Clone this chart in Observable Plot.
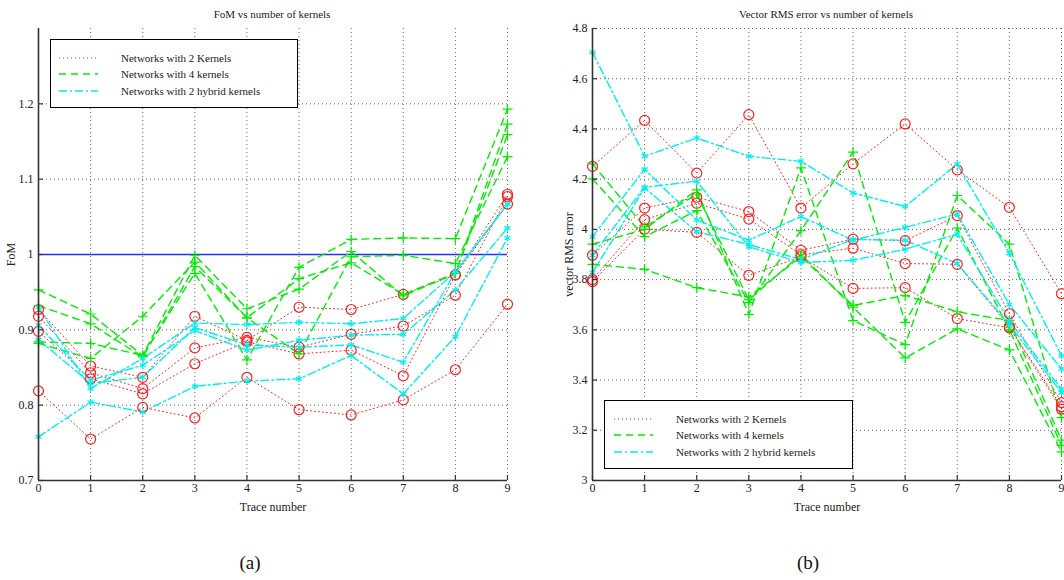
<!DOCTYPE html>
<html><head><meta charset="utf-8">
<script src="https://cdn.jsdelivr.net/npm/d3@7"></script>
<script src="https://cdn.jsdelivr.net/npm/@observablehq/plot@0.6"></script>
<style>
body{margin:0;background:#fff;}
#wrap{position:relative;width:1064px;height:580px;overflow:hidden;background:#fff;font-family:"Liberation Serif","Times New Roman","DejaVu Serif",serif;}
.panel{position:absolute;top:0;}
.ttl{position:absolute;top:8px;font-size:11px;color:#222;white-space:nowrap;transform:translateX(-50%);}
.cap{position:absolute;top:552px;font-size:19px;color:#111;transform:translateX(-50%);}
.leg{position:absolute;border:1.5px solid #000;background:#fff;box-sizing:border-box;}
.leg .row{position:absolute;left:0;height:14px;font-size:11px;color:#222;white-space:nowrap;}
.leg svg{position:absolute;top:0;}
.leg span{position:absolute;top:0;line-height:14px;}
</style></head><body><div id="wrap"></div>
<script>
// ---------- data ----------
const traces = [0, 1, 2, 3, 4, 5, 6, 7, 8, 9];
const seriesNames = ["Networks with 2 Kernels", "Networks with 4 kernels", "Networks with 2 hybrid kernels"];

// (a) FoM
const fomTwoKernels = [
  [0.927, 0.852, 0.837, 0.918, 0.886, 0.930, 0.927, 0.947, 0.973, 1.080],
  [0.918, 0.843, 0.822, 0.876, 0.890, 0.877, 0.894, 0.905, 0.946, 1.077],
  [0.898, 0.835, 0.815, 0.855, 0.884, 0.868, 0.873, 0.839, 0.973, 1.067],
  [0.819, 0.755, 0.797, 0.783, 0.837, 0.794, 0.787, 0.807, 0.847, 0.934]
];
const fomFourKernels = [
  [0.953, 0.921, 0.866, 0.999, 0.928, 0.954, 1.004, 0.945, 0.975, 1.159],
  [0.932, 0.908, 0.864, 0.984, 0.916, 0.868, 0.997, 0.999, 0.988, 1.130],
  [0.884, 0.882, 0.866, 0.975, 0.860, 0.983, 1.020, 1.022, 1.021, 1.193],
  [0.882, 0.862, 0.918, 0.990, 0.916, 0.968, 0.989, 0.947, 0.975, 1.173]
];
const fomHybrid = [
  [0.930, 0.822, 0.862, 0.909, 0.907, 0.910, 0.908, 0.915, 0.977, 1.067],
  [0.906, 0.833, 0.853, 0.899, 0.873, 0.886, 0.893, 0.894, 0.953, 1.035],
  [0.887, 0.829, 0.837, 0.903, 0.880, 0.877, 0.880, 0.857, 0.977, 1.067],
  [0.758, 0.804, 0.791, 0.825, 0.832, 0.835, 0.866, 0.815, 0.891, 1.022]
];
const fomReference = [1];
const fomTicks = [0.7, 0.8, 0.9, 1, 1.1, 1.2];
const fomDomain = [0.7, 1.3];

// (b) vector RMS error
const rmsTwoKernels = [
  [4.251, 4.434, 4.224, 4.457, 4.085, 4.261, 4.420, 4.237, 4.088, 3.744],
  [3.897, 4.085, 4.128, 4.071, 3.917, 3.961, 3.955, 4.055, 3.664, 3.310],
  [3.800, 4.039, 4.104, 4.041, 3.899, 3.925, 3.864, 3.861, 3.613, 3.294],
  [3.792, 4.001, 3.988, 3.817, 3.891, 3.765, 3.768, 3.645, 3.608, 3.284]
];
const rmsFourKernels = [
  [3.941, 4.000, 4.157, 3.661, 4.245, 3.637, 3.541, 4.135, 3.941, 3.250],
  [3.861, 3.841, 3.768, 3.731, 3.891, 3.697, 3.737, 3.672, 3.637, 3.161],
  [4.201, 3.971, 4.075, 3.708, 3.995, 4.308, 3.630, 4.005, 3.600, 3.140],
  [4.261, 4.010, 4.140, 3.720, 3.900, 3.690, 3.488, 3.604, 3.520, 3.114]
];
const rmsHybrid = [
  [4.705, 4.291, 4.364, 4.291, 4.271, 4.145, 4.091, 4.260, 3.904, 3.497],
  [3.971, 4.239, 4.037, 3.957, 4.051, 3.957, 4.008, 4.061, 3.701, 3.444],
  [3.897, 4.168, 4.192, 3.931, 3.868, 3.877, 3.921, 3.981, 3.635, 3.364],
  [3.828, 4.165, 3.991, 3.940, 3.880, 3.960, 3.957, 3.864, 3.620, 3.350]
];
const rmsTicks = [3, 3.2, 3.4, 3.6, 3.8, 4, 4.2, 4.4, 4.6, 4.8];
const rmsDomain = [3, 4.8];

// ---------- styles ----------
const FONT = "'Liberation Serif', 'Times New Roman', 'DejaVu Serif', serif";
const groupStyle = [
  {color: "#ff2020", dash: "1,3", width: 1, symbol: "circle", r: 5},
  {color: "#00ee00", dash: "7,5", width: 1.4, symbol: "plus", r: 3.3},
  {color: "#00f0f0", dash: "8,3,2,3", width: 1.4, symbol: "asterisk", r: 3.3}
];

function rows(groups) {
  const out = [];
  groups.forEach((g, gi) => g.forEach((s, si) => s.forEach((v, i) => out.push({x: traces[i], y: v, g: gi, id: gi + "-" + si}))));
  return out;
}

function panel({left, width, mL, mR, groups, ticks, domain, yLabel, refLine, yLabelOffset}) {
  const data = rows(groups);
  const H = 520, mT = 28, mB = 40;
  const plotH = H - mT - mB;
  const dy = (domain[1] - domain[0]) / plotH;
  const plotW = width - mL - mR;
  const dx = 9 / plotW;
  const marks = [
    Plot.ruleX(traces, {stroke: "#666", strokeDasharray: "1,3", strokeWidth: 1}),
    Plot.ruleY(ticks.filter(t => t !== domain[0]), {stroke: "#666", strokeDasharray: "1,3", strokeWidth: 1}),
  ];
  if (refLine) marks.push(Plot.ruleY(refLine, {stroke: "#2030ff", strokeWidth: 1.5}));
  groupStyle.forEach((st, gi) => {
    const d = data.filter(r => r.g === gi);
    marks.push(Plot.line(d, {x: "x", y: "y", z: "id", stroke: st.color, strokeWidth: st.width, strokeDasharray: st.dash}));
  });
  groupStyle.forEach((st, gi) => {
    const d = data.filter(r => r.g === gi);
    marks.push(Plot.dot(d, {x: "x", y: "y", symbol: st.symbol, r: st.r, stroke: st.color, strokeWidth: 1.2, fill: "none"}));
  });
  marks.push(Plot.ruleX([0], {stroke: "#333", strokeWidth: 1.6}));
  marks.push(Plot.ruleY([domain[0]], {stroke: "#333", strokeWidth: 1.6}));
  marks.push(Plot.ruleY(ticks, {x1: 0, x2: 5 * dx, stroke: "#333", strokeWidth: 1.2}));
  marks.push(Plot.ruleX(traces, {y1: domain[0], y2: domain[0] + 5 * dy, stroke: "#333", strokeWidth: 1.2}));
  marks.push(Plot.axisY(ticks, {tickSize: 0, tickPadding: 5, tickFormat: d => String(d), label: yLabel, labelAnchor: "center", labelArrow: "none", labelOffset: yLabelOffset, fontSize: 12}));
  marks.push(Plot.axisX(traces, {tickSize: 0, tickPadding: 3, tickFormat: d => String(d), label: "Trace number", labelAnchor: "center", labelArrow: "none", labelOffset: 30, fontSize: 12}));
  const svg = Plot.plot({
    width, height: H, marginLeft: mL, marginRight: mR, marginTop: mT, marginBottom: mB,
    x: {domain: [0, 9]}, y: {domain},
    style: {fontFamily: FONT, fontSize: "12px", color: "#222", background: "transparent", overflow: "visible"},
    marks
  });
  const div = document.createElement("div");
  div.className = "panel";
  div.style.left = left + "px";
  div.appendChild(svg);
  return div;
}

function legend(x, y, w, h, textX, sampleX, sampleW, rowY) {
  const lg = document.createElement("div");
  lg.className = "leg";
  Object.assign(lg.style, {left: x + "px", top: y + "px", width: w + "px", height: h + "px"});
  seriesNames.forEach((name, i) => {
    const st = groupStyle[i];
    const row = document.createElement("div");
    row.className = "row";
    row.style.top = (rowY[i] - 7) + "px";
    row.style.width = w + "px";
    row.innerHTML = `<svg width="${sampleW + 4}" height="14" style="left:${sampleX}px"><line x1="1" y1="7" x2="${sampleW}" y2="7" stroke="${st.color}" stroke-width="${st.width}" stroke-dasharray="${st.dash}"/></svg><span style="left:${textX}px">${name}</span>`;
    lg.appendChild(row);
  });
  return lg;
}

const wrap = document.getElementById("wrap");
wrap.appendChild(panel({left: 0, width: 530, mL: 38, mR: 23, groups: [fomTwoKernels, fomFourKernels, fomHybrid], ticks: fomTicks, domain: fomDomain, yLabel: "FoM", refLine: fomReference, yLabelOffset: 32}));
wrap.appendChild(panel({left: 555, width: 509, mL: 37, mR: 3, groups: [rmsTwoKernels, rmsFourKernels, rmsHybrid], ticks: rmsTicks, domain: rmsDomain, yLabel: "vector RMS error", refLine: null, yLabelOffset: 28}));

function addDiv(cls, text, x) {
  const d = document.createElement("div");
  d.className = cls; d.textContent = text; d.style.left = x + "px";
  wrap.appendChild(d);
}
addDiv("ttl", "FoM vs number of kernels", 272);
addDiv("ttl", "Vector RMS error vs number of kernels", 826);
addDiv("cap", "(a)", 250);
addDiv("cap", "(b)", 808);

wrap.appendChild(legend(50, 39, 248, 69, 70, 7, 40, [18, 34, 51]));
wrap.appendChild(legend(604, 400, 249, 69, 71, 8, 40, [18, 34, 51]));
</script></body></html>
